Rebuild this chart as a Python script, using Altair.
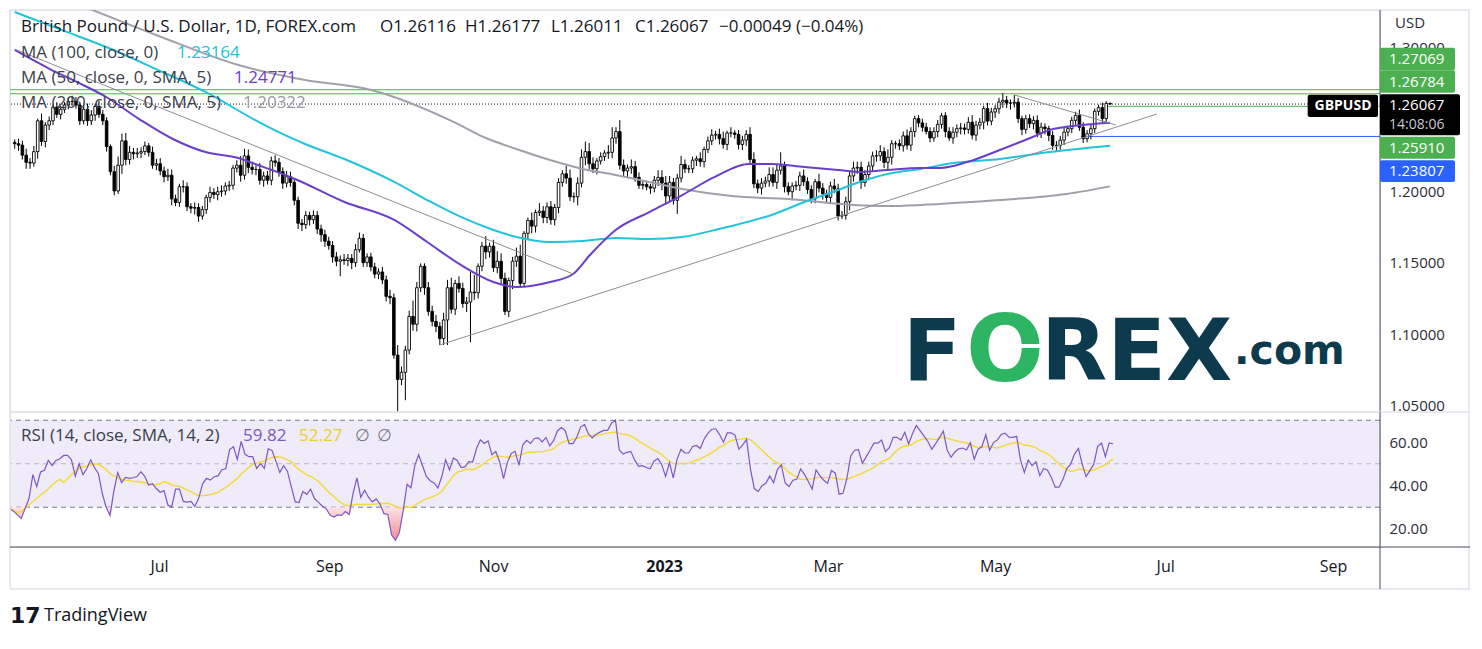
import altair as alt
import pandas as pd

FONT = "Open Sans"
INK = "#131722"
LEG = "#3B3F4A"
AXIS_TXT = "#2A2E39"
DARK_LINE = "#4A4E59"
LIGHT_LINE = "#E0E3EB"
C_MA50 = "#6A3FC9"
C_MA100 = "#22C3DC"
C_MA200 = "#A0A0AA"

# ---------------- data ----------------
first_open = 1.2340
close_may22 = [1.2330, 1.2320, 1.2250, 1.2200, 1.2195, 1.2275, 1.2490, 1.2345, 1.2460, 1.2490, 1.2585, 1.2535, 1.2570, 1.2600, 1.2625, 1.2625, 1.2600]
close_jun22 = [1.2490, 1.2570, 1.2490, 1.2530, 1.2590, 1.2535, 1.2490, 1.2310, 1.2135, 1.2000, 1.2180, 1.2350, 1.2220, 1.2270, 1.2260, 1.2265, 1.2275, 1.2315, 1.2270, 1.2180, 1.2190, 1.2140]
close_jul22 = [1.2100, 1.2110, 1.1945, 1.1920, 1.2030, 1.2030, 1.1890, 1.1880, 1.1885, 1.1825, 1.1870, 1.1955, 1.1990, 1.1975, 1.1995, 1.2000, 1.2035, 1.2040, 1.2160, 1.2180, 1.2110]
close_aug22 = [1.2245, 1.2165, 1.2150, 1.2150, 1.2075, 1.2105, 1.2075, 1.2210, 1.2200, 1.2135, 1.2055, 1.2100, 1.2060, 1.1935, 1.1775, 1.1765, 1.1830, 1.1800, 1.1830, 1.1735, 1.1695, 1.1650, 1.1620]
close_sep22 = [1.1540, 1.1510, 1.1520, 1.1515, 1.1530, 1.1500, 1.1590, 1.1670, 1.1500, 1.1540, 1.1470, 1.1420, 1.1435, 1.1380, 1.1265, 1.1255, 1.0855, 1.0685, 1.0735, 1.0890, 1.1125, 1.1070]
close_oct22 = [1.1325, 1.1475, 1.1325, 1.1160, 1.1090, 1.1055, 1.0970, 1.1100, 1.1325, 1.1175, 1.1355, 1.1320, 1.1215, 1.1225, 1.1295, 1.1290, 1.1475, 1.1615, 1.1575, 1.1615, 1.1465]
close_nov22 = [1.1510, 1.1390, 1.1160, 1.1375, 1.1510, 1.1545, 1.1355, 1.1705, 1.1795, 1.1755, 1.1850, 1.1860, 1.1815, 1.1890, 1.1800, 1.1885, 1.2060, 1.2120, 1.2090, 1.1960, 1.1960, 1.2055]
close_dec22 = [1.2235, 1.2275, 1.2190, 1.2155, 1.2210, 1.2240, 1.2265, 1.2270, 1.2370, 1.2415, 1.2180, 1.2140, 1.2160, 1.2170, 1.2095, 1.2040, 1.2045, 1.2030, 1.2020, 1.2075, 1.2095]
close_jan23 = [1.2055, 1.1965, 1.2060, 1.1935, 1.2090, 1.2185, 1.2155, 1.2155, 1.2215, 1.2225, 1.2205, 1.2290, 1.2350, 1.2390, 1.2395, 1.2365, 1.2325, 1.2405, 1.2405, 1.2395, 1.2325, 1.2355]
close_feb23 = [1.2395, 1.2220, 1.2050, 1.2020, 1.2055, 1.2070, 1.2115, 1.2060, 1.2145, 1.2175, 1.2030, 1.1995, 1.2035, 1.2040, 1.2105, 1.2065, 1.2010, 1.1945, 1.2065, 1.2020]
close_mar23 = [1.1980, 1.1955, 1.2035, 1.2015, 1.1825, 1.1830, 1.1925, 1.2105, 1.2160, 1.2165, 1.2060, 1.2115, 1.2175, 1.2245, 1.2245, 1.2275, 1.2200, 1.2235, 1.2330, 1.2330, 1.2315, 1.2385, 1.2320]
close_apr23 = [1.2415, 1.2505, 1.2475, 1.2445, 1.2415, 1.2370, 1.2415, 1.2465, 1.2525, 1.2415, 1.2370, 1.2410, 1.2435, 1.2440, 1.2430, 1.2480, 1.2390, 1.2460, 1.2480, 1.2575]
close_may23 = [1.2488, 1.2551, 1.2574, 1.2621, 1.2633, 1.2614, 1.2613, 1.2620, 1.2505, 1.2430, 1.2505, 1.2470, 1.2493, 1.2404, 1.2446, 1.2435, 1.2388, 1.2318, 1.2318, 1.2355, 1.2411, 1.2435, 1.2493]
close_jun23 = [1.2528, 1.2445, 1.2365, 1.2400, 1.2435, 1.2556, 1.2582, 1.2505, 1.26116, 1.26067]

# wick lengths beyond the body, in pips (1e-4)
wup_may22 = [20, 35, 30, 45, 30, 40, 15, 50, 20, 30, 15, 35, 25, 20, 30, 40, 30]
wdn_may22 = [35, 40, 30, 45, 40, 25, 50, 30, 40, 35, 30, 25, 35, 25, 30, 30, 25]
wup_jun22 = [25, 30, 40, 35, 20, 40, 30, 25, 15, 40, 60, 50, 55, 45, 30, 35, 30, 30, 20, 40, 35, 40]
wdn_jun22 = [30, 25, 35, 30, 40, 25, 30, 35, 25, 30, 20, 60, 40, 35, 40, 30, 35, 25, 30, 25, 35, 30]
wup_jul22 = [30, 45, 40, 30, 20, 45, 30, 25, 35, 30, 25, 20, 40, 30, 35, 40, 25, 30, 20, 35, 65]
wdn_jul22 = [40, 30, 45, 25, 30, 40, 30, 35, 45, 40, 25, 30, 35, 30, 40, 35, 30, 35, 30, 30, 45]
wup_aug22 = [50, 45, 40, 30, 45, 30, 35, 30, 40, 30, 30, 40, 35, 30, 25, 30, 30, 25, 35, 30, 30, 35, 30]
wdn_aug22 = [30, 40, 35, 40, 30, 45, 30, 35, 30, 35, 40, 30, 30, 35, 40, 45, 30, 40, 30, 35, 50, 40, 30]
wup_sep22 = [30, 35, 30, 40, 30, 30, 40, 40, 30, 25, 30, 30, 25, 35, 30, 45, 30, 70, 40, 30, 40, 110]
wdn_sep22 = [40, 35, 105, 30, 40, 45, 30, 20, 30, 30, 30, 30, 35, 30, 35, 45, 25, 335, 40, 195, 30, 45]
wup_oct22 = [40, 20, 20, 40, 40, 45, 30, 50, 55, 70, 25, 50, 40, 35, 140, 120, 20, 30, 70, 25, 45]
wdn_oct22 = [50, 30, 50, 30, 35, 40, 45, 45, 175, 30, 40, 30, 30, 60, 280, 50, 40, 35, 50, 40, 30]
wup_nov22 = [70, 55, 40, 20, 30, 60, 80, 15, 20, 55, 20, 55, 35, 30, 40, 25, 30, 25, 55, 60, 30, 40]
wdn_nov22 = [40, 40, 25, 40, 60, 40, 30, 25, 40, 50, 45, 25, 40, 40, 35, 40, 40, 30, 40, 30, 40, 60]
wup_dec22 = [55, 70, 60, 45, 20, 30, 20, 50, 75, 30, 80, 40, 25, 50, 40, 35, 30, 25, 20, 30, 50]
wdn_dec22 = [30, 55, 40, 30, 40, 25, 30, 40, 40, 40, 30, 40, 45, 40, 30, 25, 30, 25, 40, 30, 40]
wup_jan23 = [50, 50, 45, 30, 30, 60, 35, 25, 25, 20, 45, 20, 30, 40, 25, 40, 50, 15, 40, 20, 30, 30]
wdn_jan23 = [50, 60, 40, 30, 95, 30, 30, 30, 30, 40, 35, 40, 25, 30, 30, 40, 30, 40, 30, 30, 35, 40]
wup_feb23 = [30, 50, 50, 30, 35, 30, 50, 50, 45, 95, 30, 30, 25, 30, 30, 45, 30, 30, 20, 55]
wdn_feb23 = [40, 30, 30, 35, 45, 30, 40, 30, 45, 30, 40, 25, 60, 30, 40, 30, 30, 30, 30, 30]
wup_mar23 = [35, 30, 30, 50, 35, 30, 35, 30, 45, 40, 40, 30, 30, 30, 40, 45, 30, 55, 25, 20, 30, 30, 45]
wdn_mar23 = [40, 40, 40, 30, 30, 20, 30, 60, 40, 40, 45, 30, 40, 35, 40, 35, 40, 60, 50, 35, 30, 40, 30]
wup_apr23 = [30, 20, 25, 30, 30, 30, 30, 30, 20, 25, 30, 35, 30, 35, 30, 35, 50, 30, 30, 20]
wdn_apr23 = [40, 40, 30, 30, 20, 30, 25, 40, 30, 40, 20, 40, 35, 40, 35, 30, 30, 40, 30, 50]
wup_may23 = [40, 30, 25, 30, 50, 30, 25, 50, 30, 20, 25, 30, 30, 35, 30, 25, 20, 30, 30, 30, 30, 20, 25]
wdn_may23 = [30, 30, 40, 35, 40, 35, 45, 30, 30, 40, 30, 30, 40, 30, 35, 40, 40, 30, 40, 30, 35, 30, 30]
wup_jun23 = [25, 40, 35, 25, 30, 20, 20, 35, 15, 6]
wdn_jun23 = [30, 25, 30, 25, 40, 30, 30, 25, 30, 5]

# moving averages sampled along the drawn curves (bar index, price)
ma50_idx = [0, 9.2, 16.2, 23.9, 32.5, 41.3, 49.8, 58.4, 62.8, 73.2, 86.1, 99.1, 107.7, 116.5, 125.0, 131.0, 139.8, 145.8, 150.2, 156.9, 165.7, 174.3, 182.8, 191.6, 197.6, 206.2, 215.0, 220.9, 227.9, 236.5, 241.7, 248.7, 257.2, 265.8, 270.2, 278.7, 286]
ma50_val = [1.2984, 1.2851, 1.2761, 1.2656, 1.2502, 1.2363, 1.2272, 1.2230, 1.2188, 1.2084, 1.1923, 1.1798, 1.1644, 1.1484, 1.1365, 1.1330, 1.1365, 1.1421, 1.1553, 1.1728, 1.1853, 1.1972, 1.2098, 1.2188, 1.2188, 1.2167, 1.2147, 1.2133, 1.2147, 1.2161, 1.2161, 1.2202, 1.2286, 1.2377, 1.2426, 1.2461, 1.24771]
ma100_idx = [0, 13.6, 23.9, 36.9, 49.8, 62.8, 68.8, 75.8, 86.1, 99.1, 107.7, 116.5, 125.0, 131.0, 139.8, 148.3, 156.9, 165.7, 174.3, 182.8, 187.2, 197.6, 206.2, 215.0, 219.1, 227.9, 236.5, 245.0, 257.2, 270.2, 286]
ma100_val = [1.3249, 1.3110, 1.3005, 1.2851, 1.2691, 1.2495, 1.2412, 1.2328, 1.2223, 1.2063, 1.1937, 1.1819, 1.1728, 1.1679, 1.1644, 1.1651, 1.1672, 1.1665, 1.1679, 1.1728, 1.1756, 1.1833, 1.1923, 1.2007, 1.2049, 1.2119, 1.2154, 1.2195, 1.2223, 1.2272, 1.23164]
ma200_idx = [0, 16.9, 36.9, 58.4, 75.8, 93.1, 114.6, 122.4, 131.0, 139.8, 148.3, 156.9, 165.7, 174.3, 187.2, 202.0, 219.1, 227.9, 236.5, 249.4, 257.2, 274.6, 286]
ma200_val = [1.3465, 1.3298, 1.3089, 1.2879, 1.2775, 1.2705, 1.2482, 1.2377, 1.2293, 1.2216, 1.2154, 1.2112, 1.2063, 1.2014, 1.1965, 1.1944, 1.1902, 1.1895, 1.1902, 1.1923, 1.1937, 1.1979, 1.20322]

# drawn trendlines: (start index, start price, end index, end price)
trend_rise = (110.9, 1.0925, 298.2, 1.2537)
trend_fall_long = (0.0, 1.2990, 145.8, 1.1421)
trend_fall_short = (261.1, 1.2670, 287.5, 1.2461)

# horizontal levels
level_full_green = [1.27069, 1.26784]
last_price = 1.26067
ray_green = (285.0, 1.25910)
ray_blue = (278.4, 1.23807)

rsi_head = [29.3, 28.2, 26.5, 24.8, 29.5, 33.9, 45.0, 39.5, 46.2, 47.0, 51.5, 49.2, 51.5, 52.3]
rsi_seed = (0.00300, 0.00274)
rsi_sma_head = [29.6, 28.5, 27.5, 28.0, 29.5, 31.2, 32.6, 34.0, 35.6, 36.8, 38.5, 40.2, 41.7, 42.9]

month_pos = [38.7, 82.8, 125.3, 169.6, 212.1, 255.4, 299.5, 343.0]
month_lab = ["Jul", "Sep", "Nov", "2023", "Mar", "May", "Jul", "Sep"]
price_ticks = [1.05, 1.10, 1.15, 1.20, 1.30]
rsi_ticks = [20, 40, 60]

# ---------------- tables ----------------
close = (close_may22 + close_jun22 + close_jul22 + close_aug22 + close_sep22 + close_oct22 +
         close_nov22 + close_dec22 + close_jan23 + close_feb23 + close_mar23 + close_apr23 +
         close_may23 + close_jun23)
wup = (wup_may22 + wup_jun22 + wup_jul22 + wup_aug22 + wup_sep22 + wup_oct22 + wup_nov22 +
       wup_dec22 + wup_jan23 + wup_feb23 + wup_mar23 + wup_apr23 + wup_may23 + wup_jun23)
wdn = (wdn_may22 + wdn_jun22 + wdn_jul22 + wdn_aug22 + wdn_sep22 + wdn_oct22 + wdn_nov22 +
       wdn_dec22 + wdn_jan23 + wdn_feb23 + wdn_mar23 + wdn_apr23 + wdn_may23 + wdn_jun23)
n = len(close)
opn = [first_open] + close[:-1]
high = [max(o, c) + u / 1e4 for o, c, u in zip(opn, close, wup)]
low = [min(o, c) - d / 1e4 for o, c, d in zip(opn, close, wdn)]
candles = pd.DataFrame({"i": list(range(n)), "open": opn, "close": close, "high": high, "low": low})
candles["up"] = candles["close"] >= candles["open"]

tr_rows = []
for name, t in [("rise", trend_rise), ("fall_long", trend_fall_long), ("fall_short", trend_fall_short)]:
    tr_rows.append({"name": name, "i": t[0], "v": t[1]})
    tr_rows.append({"name": name, "i": t[2], "v": t[3]})
tr_df = pd.DataFrame(tr_rows)

rsi = list(rsi_head)
ag, al = rsi_seed
for k in range(len(rsi_head), n):
    d = close[k] - close[k - 1]
    ag = (ag * 13 + max(d, 0.0)) / 14
    al = (al * 13 + max(-d, 0.0)) / 14
    rsi.append(100 - 100 / (1 + ag / al))
sma = []
for k in range(n):
    if k < len(rsi_sma_head):
        sma.append(rsi_sma_head[k])
    else:
        sma.append(sum(rsi[k - 13:k + 1]) / 14)
rsi_df = pd.DataFrame({"i": list(range(n)), "rsi": rsi, "sma": sma})
rsi_df["os"] = rsi_df["rsi"].clip(upper=30)
rsi_df["ob"] = rsi_df["rsi"].clip(lower=70)
rsi_df["lo"] = 30.0
rsi_df["hi"] = 70.0

ONE = pd.DataFrame({"k": [0]})

# ---------------- geometry ----------------
W, H1, H2 = 1370, 402, 135
xs = alt.Scale(domain=[0.078, 355.18], nice=False, zero=False)
ys = alt.Scale(domain=[1.04578, 1.32631], nice=False, zero=False)
rs = alt.Scale(domain=[11.7, 73.8], nice=False, zero=False)

price_axis = alt.Axis(orient="right", values=price_ticks, format=".5f", domain=False, ticks=False,
                      tickSize=0, grid=False, labelPadding=9, labelAlign="left", labelFontSize=15,
                      labelColor=AXIS_TXT, labelFont=FONT, title=None)
rsi_axis = alt.Axis(orient="right", values=rsi_ticks, format=".2f", domain=False, ticks=False,
                    tickSize=0, grid=False, labelPadding=9, labelAlign="left", labelFontSize=15,
                    labelColor=AXIS_TXT, labelFont=FONT, title=None)
lab_expr = " : ".join(f"datum.value == {p} ? '{l}'" for p, l in zip(month_pos, month_lab)) + " : ''"
bold_test = f"datum.value == {month_pos[3]}"
x_axis = alt.Axis(values=month_pos, labelExpr=lab_expr, domain=False, ticks=False, tickSize=0,
                  grid=False, labelPadding=11, labelFontSize=16, labelColor=INK, labelFont=FONT,
                  labelFontWeight={"condition": {"test": bold_test, "value": "bold"}, "value": "normal"},
                  title=None, labelOverlap=False)

XP = alt.X("i:Q", scale=xs, axis=None)
XR = alt.X("i:Q", scale=xs, axis=x_axis)
YP = lambda f: alt.Y(f, scale=ys, axis=price_axis)
YR = lambda f: alt.Y(f, scale=rs, axis=rsi_axis)


def txt(px, py, s, color=INK, size=17, weight="normal", align="left", baseline="middle", font=FONT):
    return alt.Chart(ONE).mark_text(align=align, baseline=baseline, font=font, fontSize=size,
                                    fontWeight=weight, color=color).encode(
        x=alt.value(px), y=alt.value(py), text=alt.value(s))


def box(x1, x2, y1, y2, color, radius=2):
    return alt.Chart(ONE).mark_rect(color=color, cornerRadius=radius).encode(
        x=alt.value(x1), x2=alt.value(x2), y=alt.value(y1), y2=alt.value(y2))


def seg(x1, x2, y1, y2, color, w=1.0):
    return alt.Chart(ONE).mark_rule(color=color, strokeWidth=w).encode(
        x=alt.value(x1), x2=alt.value(x2), y=alt.value(y1), y2=alt.value(y2))


def ma_line(ix, vals, color):
    df = pd.DataFrame({"i": ix, "v": vals})
    return alt.Chart(df).mark_line(interpolate="monotone", strokeWidth=2, clip=True, color=color).encode(
        x=XP, y=YP("v:Q"))


def ray(r, color):
    df = pd.DataFrame({"i": [r[0]], "v": [r[1]]})
    return alt.Chart(df).mark_rule(strokeWidth=1, color=color).encode(x=XP, x2=alt.value(W), y=YP("v:Q"))


# ---------------- price pane ----------------
hlines = alt.Chart(pd.DataFrame({"v": level_full_green})).mark_rule(color="#4CAF50", strokeWidth=1).encode(
    y=YP("v:Q"))
last_line = alt.Chart(pd.DataFrame({"v": [last_price]})).mark_rule(
    color=INK, strokeWidth=1, strokeDash=[1, 2]).encode(y=YP("v:Q"))

wicks = alt.Chart(candles).mark_rule(color="#000000", strokeWidth=1, clip=True).encode(
    x=XP, y=YP("low:Q"), y2="high:Q")
bodies = alt.Chart(candles).mark_bar(size=2.6, stroke="#000000", strokeWidth=0.9, clip=True).encode(
    x=XP, y=YP("open:Q"), y2="close:Q",
    fill=alt.condition("datum.up", alt.value("#FFFFFF"), alt.value("#000000")))

trends = alt.Chart(tr_df).mark_line(color="#8A8D96", strokeWidth=1, clip=True).encode(
    x=XP, y=YP("v:Q"), detail="name:N")

LOGO = "DejaVu Sans"
NAVY = "#0E3A4E"
price_layers = [
    seg(0, 1460, 0, 0, LIGHT_LINE, 1.5),
    seg(0, 0, 0, H1, LIGHT_LINE, 1.5),
    seg(1459, 1459, 0, H1, LIGHT_LINE, 1.5),
    hlines, last_line, ray(ray_green, "#4CAF50"), ray(ray_blue, "#2962FF"),
    wicks, bodies,
    ma_line(ma200_idx, ma200_val, C_MA200),
    ma_line(ma100_idx, ma100_val, C_MA100),
    ma_line(ma50_idx, ma50_val, C_MA50),
    trends,
    seg(W, W, 0, H1, DARK_LINE, 1),
    # legend
    txt(11, 17, "British Pound / U.S. Dollar, 1D, FOREX.com", color=INK),
    txt(370, 17, "O1.26116"), txt(455, 17, "H1.26177"), txt(541, 17, "L1.26011"),
    txt(625, 17, "C1.26067"), txt(709, 17, "\u22120.00049 (\u22120.04%)"),
    txt(11, 43, "MA (100, close, 0)", color=LEG), txt(167, 43, "1.23164", color=C_MA100),
    txt(11, 68, "MA (50, close, 0, SMA, 5)", color=LEG), txt(224, 68, "1.24771", color=C_MA50),
    txt(11, 93, "MA (200, close, 0, SMA, 5)", color=LEG), txt(233, 93, "1.20322", color="#9A9AA3"),
    # logo
    txt(922, 370, "F", color=NAVY, size=86, weight="bold", align="center", baseline="alphabetic", font=LOGO),
    txt(995, 371, "O", color="#2DB563", size=92, weight="bold", align="center", baseline="alphabetic", font=LOGO),
    seg(996, 1036, 336, 336, "#FFFFFF", 4),
    txt(1031, 370, "REX", color=NAVY, size=86, weight="bold", align="left", baseline="alphabetic", font=LOGO),
    txt(1224, 354, ".com", color=NAVY, size=41, weight="bold", align="left", baseline="alphabetic", font=LOGO),
    # price scale labels
    txt(1385, 13, "USD", color=AXIS_TXT, size=15),
    box(1370, 1445, 37.7, 60.3, "#4CAF50"), txt(1379, 49, "1.27069", color="#FFFFFF", size=15),
    box(1370, 1445, 60.3, 82.7, "#4CAF50"), txt(1379, 71.5, "1.26784", color="#FFFFFF", size=15),
    box(1370, 1450, 84.3, 125.3, "#000000"), txt(1379, 95, "1.26067", color="#FFFFFF", size=15),
    txt(1379, 115, "14:08:06", color="#C8CAD0", size=14),
    box(1370, 1445, 126.7, 148.7, "#4CAF50"), txt(1379, 137.7, "1.25910", color="#FFFFFF", size=15),
    box(1370, 1445, 150.3, 172, "#2962FF"), txt(1379, 161, "1.23807", color="#FFFFFF", size=15),
    box(1297.7, 1368, 84.7, 107, "#000000"),
    txt(1333, 96, "GBPUSD", color="#FFFFFF", size=14, weight="bold", align="center"),
]
price = alt.layer(*price_layers).properties(width=W, height=H1)

# ---------------- RSI pane ----------------
band = alt.Chart(rsi_df.head(1)).mark_rect(color="#EFEBF8").encode(
    x=alt.value(0), x2=alt.value(W), y=YR("lo:Q"), y2="hi:Q")
lvl_outer = alt.Chart(pd.DataFrame({"v": [70, 30]})).mark_rule(
    strokeWidth=1, strokeDash=[5, 4], color="#787B86").encode(y=YR("v:Q"))
lvl_mid = alt.Chart(pd.DataFrame({"v": [50]})).mark_rule(
    strokeWidth=1, strokeDash=[5, 4], color="#B8B9C0").encode(y=YR("v:Q"))
os_area = alt.Chart(rsi_df).mark_area(
    clip=True,
    color=alt.Gradient(gradient="linear", x1=0, x2=0, y1=0, y2=1,
                       stops=[alt.GradientStop(color="#FDE3E6", offset=0),
                              alt.GradientStop(color="#F28C98", offset=1)])).encode(
    x=XR, y=YR("os:Q"), y2="lo:Q")
ob_area = alt.Chart(rsi_df).mark_area(
    clip=True,
    color=alt.Gradient(gradient="linear", x1=0, x2=0, y1=1, y2=0,
                       stops=[alt.GradientStop(color="#E6F5E9", offset=0),
                              alt.GradientStop(color="#9FD9A8", offset=1)])).encode(
    x=XR, y=YR("ob:Q"), y2="hi:Q")
rsi_line = alt.Chart(rsi_df).mark_line(color="#7E57C2", strokeWidth=1.2, clip=True).encode(
    x=XR, y=YR("rsi:Q"))
sma_line = alt.Chart(rsi_df).mark_line(color="#F3D935", strokeWidth=1.4, clip=True).encode(
    x=XR, y=YR("sma:Q"))

rsi_layers = [
    band, lvl_outer, lvl_mid, os_area, ob_area, sma_line, rsi_line,
    seg(0, 1460, 0, 0, LIGHT_LINE, 1.5),
    seg(0, 0, 0, 177, LIGHT_LINE, 1.5),
    seg(1459, 1459, 0, 177, LIGHT_LINE, 1.5),
    seg(0, 1460, 177, 177, LIGHT_LINE, 1.5),
    seg(0, 1460, H2, H2, DARK_LINE, 1),
    seg(W, W, 0, 177, DARK_LINE, 1),
    txt(11, 24, "RSI (14, close, SMA, 14, 2)", color=LEG),
    txt(233, 24, "59.82", color="#7E57C2"),
    txt(289, 24, "52.27", color="#E9CF2A"),
    txt(345, 24, "\u2205", color="#787B86"),
    txt(367, 24, "\u2205", color="#787B86"),
    txt(0, 204, "17", color=INK, size=22, weight="bold", font="DejaVu Sans"),
    txt(34, 204, "TradingView", color=INK, size=18),
]
rsi_chart = alt.layer(*rsi_layers).properties(width=W, height=H2)

chart = alt.vconcat(price, rsi_chart, spacing=0, bounds="flush").properties(
    padding=0
).configure_view(stroke=None).configure(font=FONT, background="#FFFFFF")

chart.save("out.html", embed_options={"renderer": "svg", "actions": False})
